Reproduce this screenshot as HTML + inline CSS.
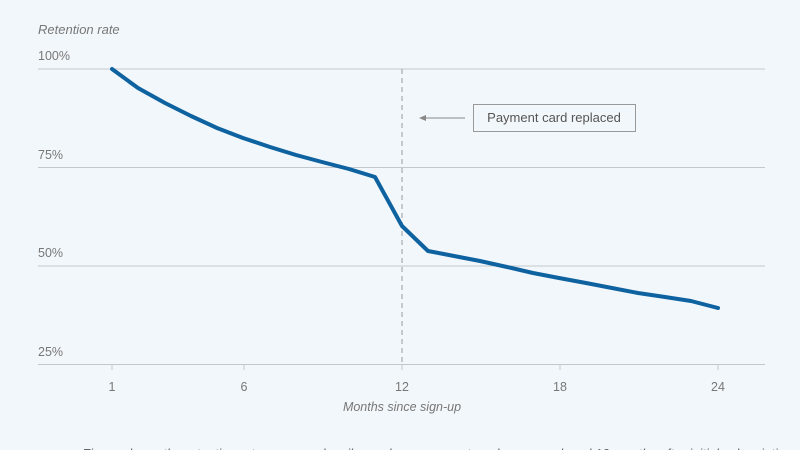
<!DOCTYPE html>
<html><head><style>
body{margin:0;background:#f2f7fb;}
svg{display:block;font-family:"Liberation Sans",sans-serif;}
</style></head><body>
<svg width="800" height="450" viewBox="0 0 800 450">
<rect width="800" height="450" fill="#f2f7fb"/>
<text x="38" y="34" font-size="13" font-style="italic" fill="#777">Retention rate</text>
<g font-size="12.5" fill="#777">
<text x="38" y="60">100%</text>
<text x="38" y="159">75%</text>
<text x="38" y="257">50%</text>
<text x="38" y="356">25%</text>
</g>
<g stroke="#c4c8cc" stroke-width="1">
<line x1="38" y1="69" x2="765" y2="69"/>
<line x1="38" y1="167.5" x2="765" y2="167.5"/>
<line x1="38" y1="266" x2="765" y2="266"/>
<line x1="38" y1="364.5" x2="765" y2="364.5"/>
<line x1="112" y1="364" x2="112" y2="370"/>
<line x1="244" y1="364" x2="244" y2="370"/>
<line x1="402" y1="364" x2="402" y2="370"/>
<line x1="560" y1="364" x2="560" y2="370"/>
<line x1="718" y1="364" x2="718" y2="370"/>
</g>
<line x1="402" y1="69" x2="402" y2="364" stroke="#aaa" stroke-width="1.2" stroke-dasharray="5,4"/>
<g font-size="12.5" fill="#777" text-anchor="middle">
<text x="112" y="391">1</text>
<text x="244" y="391">6</text>
<text x="402" y="391">12</text>
<text x="560" y="391">18</text>
<text x="718" y="391">24</text>
<text x="402" y="411" font-style="italic">Months since sign-up</text>
</g>
<rect x="473.5" y="104.5" width="162" height="27" fill="#f2f7fb" stroke="#999"/>
<text x="554" y="122" font-size="13" fill="#555" text-anchor="middle">Payment card replaced</text>
<line x1="465" y1="118" x2="424" y2="118" stroke="#888" stroke-width="1"/>
<polygon points="419,118 426,115 426,121" fill="#888"/>
<polyline fill="none" stroke="#0e62a0" stroke-width="4" stroke-linejoin="round" stroke-linecap="round"
points="112,69 138,88 165,103 191,116 217,128 243,138 270,147 296,155 322,162 349,169 375,177 402,226 428,251 454,256 480,261 507,267 533,273 559,278 586,283 612,288 638,293 665,297 691,301 718,308"/>
<text x="82" y="458" font-size="13" font-style="italic" fill="#666" textLength="710" lengthAdjust="spacingAndGlyphs">Figure shows the retention rate among subscribers whose payment cards were replaced 12 months after initial subscription</text>
</svg>
</body></html>
